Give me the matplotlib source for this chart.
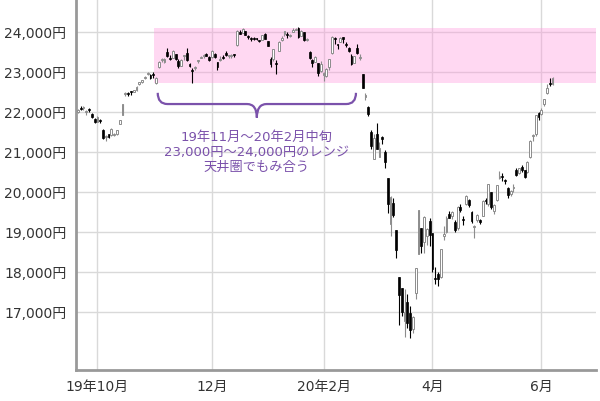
import numpy as np
import pandas as pd
import matplotlib
matplotlib.use("Agg")
import matplotlib.pyplot as plt
from matplotlib.path import Path
from matplotlib.patches import PathPatch

plt.rcParams['font.family'] = ['DejaVu Sans', 'Noto Sans CJK JP']

# trading days, Tokyo market closed on these
holidays = ["2019-09-23", "2019-10-14", "2019-10-22", "2019-11-04", "2019-12-31",
            "2020-01-01", "2020-01-02", "2020-01-03", "2020-01-13", "2020-02-11",
            "2020-02-24", "2020-03-20", "2020-04-29", "2020-05-04", "2020-05-05",
            "2020-05-06"]
dates = pd.bdate_range("2019-09-19", "2020-06-05", freq="C", holidays=holidays)

# daily prices (yen)
opens = [
    # Sep
    22010, 22110, 22090, 21990, 22080, 21960, 21820,
    # Oct
    21760, 21800, 21550, 21370, 21440, 21420, 21420, 21450, 21700, 21930,
    22460, 22480, 22500, 22500, 22540, 22690, 22750, 22850, 22940, 22930, 22960,
    # Nov
    22730, 23120, 23290, 23250, 23510, 23360, 23360, 23440, 23280, 23160,
    23400, 23480, 23200, 23040, 23110, 23270, 23350, 23390, 23440, 23380,
    # Dec
    23380, 23450, 23240, 23290, 23370, 23480, 23390, 23390, 23440, 23670,
    24010, 23980, 24020, 23900, 23860, 23840, 23840, 23790, 23810, 23940, 23770,
    # Jan
    23320, 23320, 23220, 23530, 23790, 23960, 23960, 23900, 24000, 24060,
    24100, 23900, 24000, 23800, 23500, 23300, 23260, 23220, 23020,
    # Feb
    22930, 22890, 23130, 23480, 23850, 23690, 23760, 23870, 23700, 23600,
    23400, 23230, 23600, 23360, 22950, 22380, 22120, 21500,
    # Mar
    20830, 21460, 20880, 21380, 21010, 20340, 19200, 19730, 19060, 17870,
    17590, 16770, 17250, 16990, 16570, 17470, 18450, 19100, 18740, 18900, 19270,
    # Apr
    18970, 17820, 17950, 17880, 18900, 18990, 19450, 19400, 19250, 19100,
    19630, 19310, 19700, 19800, 19500, 19120, 19300, 19290, 19400, 19800, 19700,
    # May
    20000, 19520, 19800, 20350, 20400, 20280, 20100, 19950, 20100, 20550,
    20480, 20620, 20550, 20500, 20880, 21400, 21450, 21970,
    # Jun
    21950, 22200, 22480, 22700, 22690,
]
highs = [
    22080, 22140, 22150, 22040, 22110, 21970, 21850,
    21910, 21830, 21580, 21420, 21450, 21600, 21470, 21560, 21810, 22210,
    22500, 22510, 22520, 22560, 22640, 22760, 22810, 22890, 23010, 22960, 22990,
    22870, 23280, 23350, 23340, 23590, 23420, 23540, 23460, 23320, 23320,
    23420, 23590, 23230, 23110, 23150, 23300, 23410, 23440, 23480, 23400,
    23550, 23470, 23250, 23390, 23420, 23520, 23430, 23440, 23460, 24040,
    24040, 24090, 24030, 23920, 23880, 23880, 23860, 23800, 23930, 23970, 23780,
    23370, 23580, 23300, 23770, 23900, 24030, 23990, 23960, 24100, 24110,
    24120, 24050, 24000, 23860, 23520, 23320, 23410, 23230, 23280,
    22990, 23100, 23330, 23900, 23880, 23710, 23880, 23880, 23740, 23620,
    23450, 23410, 23700, 23460, 22950, 22480, 22140, 21540,
    21440, 21720, 21250, 21400, 21040, 20340, 19900, 19840, 19060, 17880,
    17590, 17580, 17450, 17150, 16900, 18100, 19560, 19100, 19400, 19090, 19340,
    18970, 18120, 17990, 18580, 19160, 19410, 19520, 19520, 19300, 19640,
    19700, 19400, 19920, 19820, 19520, 19170, 19440, 19330, 19790, 19850, 20200,
    20000, 19690, 20180, 20530, 20480, 20330, 20120, 20060, 20200, 20600,
    20600, 20680, 20560, 20780, 21290, 21450, 21920, 22000,
    22100, 22330, 22690, 22860, 22870,
]
lows = [
    21980, 22060, 22060, 21930, 22010, 21840, 21730,
    21740, 21730, 21330, 21280, 21350, 21400, 21390, 21420, 21690, 21920,
    22390, 22400, 22430, 22490, 22520, 22680, 22730, 22820, 22920, 22820, 22860,
    22700, 23110, 23250, 23220, 23380, 23310, 23350, 23300, 23110, 23140,
    23300, 23280, 23130, 22730, 23050, 23220, 23340, 23360, 23390, 23280,
    23350, 23340, 23040, 23280, 23320, 23410, 23340, 23350, 23380, 23640,
    23940, 23970, 23920, 23820, 23780, 23810, 23800, 23760, 23800, 23820, 23640,
    23120, 23280, 22950, 23530, 23780, 23900, 23860, 23880, 23990, 24050,
    23840, 23890, 23780, 23780, 23330, 23120, 23250, 22890, 23000,
    22780, 22870, 23060, 23460, 23700, 23580, 23740, 23730, 23630, 23500,
    23180, 23220, 23450, 23300, 22600, 22290, 21900, 21080,
    20830, 21070, 20880, 21210, 20600, 19470, 18890, 19370, 18340, 16690,
    16910, 16380, 16600, 16360, 16480, 17330, 18450, 18480, 18480, 18680, 18660,
    17990, 17710, 17650, 17860, 18800, 18980, 19340, 19330, 19000, 19060,
    19500, 19170, 19680, 19630, 19230, 18850, 19250, 19200, 19390, 19700, 19650,
    19580, 19450, 19780, 20330, 20280, 20200, 19850, 19900, 20000, 20400,
    20450, 20500, 20350, 20480, 20860, 21270, 21400, 21800,
    21920, 22150, 22450, 22640, 22670,
]
closes = [
    22044, 22079, 22098, 22020, 22048, 21878, 21756,
    21885, 21778, 21341, 21410, 21375, 21587, 21456, 21551, 21798, 22207,
    22472, 22451, 22492, 22548, 22625, 22750, 22799, 22867, 22974, 22843, 22927,
    22850, 23251, 23303, 23330, 23391, 23331, 23520, 23319, 23141, 23303,
    23416, 23292, 23148, 23038, 23112, 23292, 23373, 23437, 23409, 23293,
    23529, 23379, 23135, 23300, 23354, 23430, 23410, 23391, 23424, 24023,
    23952, 24066, 23934, 23864, 23816, 23821, 23830, 23782, 23924, 23837, 23656,
    23204, 23575, 23204, 23739, 23850, 24025, 23916, 23933, 24041, 24083,
    23864, 24031, 23795, 23827, 23343, 23215, 23379, 22977, 23205,
    22971, 23084, 23319, 23873, 23827, 23685, 23861, 23827, 23687, 23523,
    23193, 23400, 23479, 23386, 22605, 22426, 21948, 21142,
    21344, 21082, 21100, 21329, 20749, 19698, 19867, 19416, 18559, 17431,
    17002, 17011, 16726, 16552, 16887, 18092, 19546, 18664, 19389, 19084, 18917,
    18065, 17818, 17820, 18576, 18950, 19353, 19345, 19498, 19043, 19638,
    19550, 19290, 19897, 19669, 19281, 19137, 19429, 19262, 19783, 19771, 20194,
    19619, 19674, 20179, 20390, 20366, 20267, 19915, 20037, 20134, 20433,
    20595, 20552, 20388, 20741, 21271, 21419, 21916, 21877,
    22062, 22325, 22613, 22695, 22863,
]
n = len(dates)
assert len(opens) == len(highs) == len(lows) == len(closes) == n
opens, highs, lows, closes = [np.array(a, dtype=float) for a in (opens, highs, lows, closes)]

month_labels = ["19年10月", "12月", "20年2月", "4月", "6月"]
month_starts = ["2019-10-01", "2019-12-02", "2020-02-03", "2020-04-01", "2020-06-01"]
yticks = [17000, 18000, 19000, 20000, 21000, 22000, 23000, 24000]
range_low, range_high = 22730, 24100
note = "19年11月～20年2月中旬\n23,000円～24,000円のレンジ\n天井圏でもみ合う"

x = np.arange(n)
pos = {d.strftime("%Y-%m-%d"): i for i, d in enumerate(dates)}

fig = plt.figure(figsize=(6, 4.01), dpi=100)
ax = fig.add_axes([0.127, 0.077, 0.866, 0.923])

ax.set_xlim(-0.6, 185.5)
ax.set_ylim(15550, 24800)

ax.grid(True, color="#d9d9d9", lw=1)
ax.set_axisbelow(True)

# pink box over the range
x0 = pos["2019-10-31"] + 0.2
ax.fill_between([x0, 185.5], range_low, range_high, color="#ff99dd", alpha=0.38, lw=0, zorder=1.5)

up = closes >= opens
grey = "#8c8c8c"
ax.vlines(x[up], lows[up], highs[up], color=grey, lw=0.8, zorder=2)
ax.vlines(x[~up], lows[~up], highs[~up], color="black", lw=0.8, zorder=2)
body = np.maximum(np.abs(closes - opens), 25)
bottom = np.minimum(opens, closes)
ax.bar(x[up], body[up], bottom=bottom[up], width=0.65, facecolor="white",
       edgecolor=grey, lw=0.7, zorder=3)
ax.bar(x[~up], body[~up], bottom=bottom[~up], width=0.65, facecolor="black",
       edgecolor="black", lw=0.5, zorder=3)

# curly brace under the range
purple = "#7b52ab"
bx0, bx1 = 28.6, 99.6
bm = (bx0 + bx1) / 2
ytop, ymid, ytip = 22480, 22200, 21860
verts = [(bx0, ytop), (bx0, ymid), (bx0 + 3.5, ymid),
         (bm - 3.5, ymid), (bm, ymid), (bm, ytip),
         (bm, ymid), (bm + 3.5, ymid),
         (bx1 - 3.5, ymid), (bx1, ymid), (bx1, ytop)]
codes = [Path.MOVETO, Path.CURVE3, Path.CURVE3,
         Path.LINETO, Path.CURVE3, Path.CURVE3,
         Path.CURVE3, Path.CURVE3,
         Path.LINETO, Path.CURVE3, Path.CURVE3]
ax.add_patch(PathPatch(Path(verts, codes), fill=False, edgecolor=purple, lw=1.6, zorder=4))
ax.text(bm, 20990, note, ha="center", va="center", color=purple, fontsize=9.5,
        linespacing=1.2, zorder=4)

ax.set_yticks(yticks)
ax.set_yticklabels([f"{v:,}円" for v in yticks])
ax.set_xticks([pos[d] for d in month_starts])
ax.set_xticklabels(month_labels)
ax.tick_params(length=0, labelsize=10, colors="#333333")
ax.tick_params(axis="y", pad=7)
ax.tick_params(axis="x", pad=7)

for s in ["top", "right"]:
    ax.spines[s].set_visible(False)
for s in ["left", "bottom"]:
    ax.spines[s].set_color("#999999")
    ax.spines[s].set_linewidth(2)

fig.savefig("out.png", dpi=100)
